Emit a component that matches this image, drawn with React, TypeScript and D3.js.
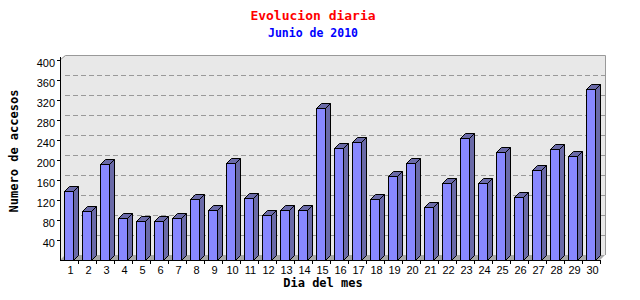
import React from "react";
import * as d3 from "d3";

const days = Array.from({ length: 30 }, (_, i) => String(i + 1));
const visits = [139, 98, 192, 83, 78, 79, 83, 123, 100, 194, 124, 91, 101, 99, 305, 225, 237, 122, 169, 195, 106, 155, 244, 153, 216, 127, 180, 222, 208, 342];
const yTicks = [40, 80, 120, 160, 200, 240, 280, 320, 360, 400];
const title = "Evolucion diaria";
const subtitle = "Junio de 2010";
const yTitle = "Numero de accesos";
const xTitle = "Dia del mes";

const W = 640, H = 300;
const left = 60, right = 600, bottom = 260, top = 60;
const DX = 5, DY = 5;
const mono = "'DejaVu Sans Mono', 'Liberation Mono', monospace";
const sans = "'Liberation Sans', Arial, sans-serif";

export default function App() {
  const x = d3.scaleBand<string>().domain(days).range([left, right]).padding(0);
  const y = d3.scaleLinear().domain([0, 400]).range([bottom, top]);
  const bw = 9;
  const off = 4;

  return (
    <svg width={W} height={H} style={{ position: "absolute", left: 0, top: 0, background: "#fff" }}>
      {/* back wall */}
      <rect x={left + DX} y={top - DY} width={right - left} height={bottom - top} fill="#e8e8e8" />
      {/* left wall */}
      <polygon points={`${left},${top} ${left + DX},${top - DY} ${left + DX},${bottom - DY} ${left},${bottom}`} fill="#e8e8e8" />
      {/* gridlines */}
      {yTicks.filter(t => t < 400).map(t => (
        <line key={t} x1={left + DX} x2={right + DX} y1={Math.round(y(t) - DY) + 0.5} y2={Math.round(y(t) - DY) + 0.5}
          stroke="#999" strokeDasharray="5,3" shapeRendering="crispEdges" />
      ))}
      {/* border */}
      <polyline points={`${left},${top} ${left + DX + 0.5},${top - DY + 0.5} ${right + DX + 0.5},${top - DY + 0.5} ${right + DX + 0.5},${bottom - DY}`} fill="none" stroke="#999" />
      {/* floor */}
      <polygon points={`${left},${bottom} ${right},${bottom} ${right + DX},${bottom - DY} ${left + DX},${bottom - DY}`} fill="#a8a8a8" />
      {/* bars */}
      {days.map((d, i) => {
        const x0 = (x(d) as number) + off + 0.5;
        const y1 = Math.round(y(visits[i])) + 0.5;
        const yb = bottom + 0.5;
        return (
          <g key={d} stroke="#000" strokeWidth={1}>
            <polygon points={`${x0 + bw},${y1} ${x0 + bw + DX},${y1 - DY} ${x0 + bw + DX},${yb - DY} ${x0 + bw},${yb}`} fill="#6a6aa8" />
            <polygon points={`${x0},${y1} ${x0 + DX},${y1 - DY} ${x0 + bw + DX},${y1 - DY} ${x0 + bw},${y1}`} fill="#6a6aa8" />
            <rect x={x0} y={y1} width={bw} height={yb - y1} fill="#8888ff" />
          </g>
        );
      })}
      {/* y axis */}
      <line x1={left + 0.5} x2={left + 0.5} y1={top - 3} y2={bottom} stroke="#000" shapeRendering="crispEdges" />
      {yTicks.map(t => (
        <g key={t}>
          <line x1={left - 3} x2={left} y1={Math.round(y(t)) + 0.5} y2={Math.round(y(t)) + 0.5} stroke="#000" shapeRendering="crispEdges" />
          <text x={left - 5} y={y(t) + 6.5} textAnchor="end" fontFamily={sans} fontSize={11} fill="#000">{t}</text>
        </g>
      ))}
      {/* x axis */}
      <line x1={left} x2={right} y1={bottom + 0.5} y2={bottom + 0.5} stroke="#000" shapeRendering="crispEdges" />
      {days.map((d) => (
        <g key={d}>
          <line x1={(x(d) as number) + 18.5} x2={(x(d) as number) + 18.5} y1={bottom} y2={bottom + 4} stroke="#000" shapeRendering="crispEdges" />
          <text x={(x(d) as number) + x.bandwidth() / 2 + 1.5} y={bottom + 14} textAnchor="middle" fontFamily={sans} fontSize={11} fill="#000">{d}</text>
        </g>
      ))}
      {/* titles */}
      <text x={313} y={20} textAnchor="middle" fontFamily={mono} fontWeight="bold" fontSize={13} fill="#ff0000">{title}</text>
      <text x={313} y={37} textAnchor="middle" fontFamily={mono} fontWeight="bold" fontSize={11.5} fill="#0000ff">{subtitle}</text>
      <text transform={`translate(18,151) rotate(-90)`} textAnchor="middle" fontFamily={mono} fontWeight="bold" fontSize={12} fill="#000">{yTitle}</text>
      <text x={323} y={287} textAnchor="middle" fontFamily={mono} fontWeight="bold" fontSize={12} fill="#000">{xTitle}</text>
    </svg>
  );
}
